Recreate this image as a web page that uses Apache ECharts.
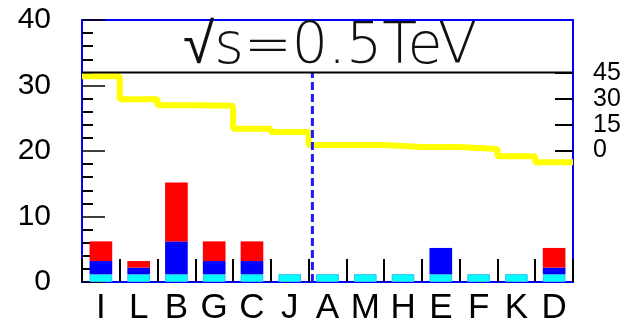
<!DOCTYPE html>
<html><head><meta charset="utf-8">
<script src="https://cdn.jsdelivr.net/npm/echarts@6/dist/echarts.min.js"></script>
<style>html,body{margin:0;padding:0;background:#fff}#c{width:630px;height:330px}</style>
</head><body><div id="c"></div>
<script>
const categories = ['I','L','B','G','C','J','A','M','H','E','F','K','D'];
const cyanValues = [1.2,1.2,1.2,1.2,1.2,1.2,1.2,1.2,1.2,1.2,1.2,1.2,1.2];
const blueValues = [2,1,5,2,2,0,0,0,0,4,0,0,1];
const redValues = [3,1,9,3,3,0,0,0,0,0,0,0,3];
const yellowValues = [31.4,27.9,27.0,26.9,23.4,22.9,20.9,20.9,20.6,20.6,20.3,19.2,18.3];
const leftTickLabels = [0,10,20,30,40];
const rightTickLabels = [0,15,30,45];
const refLevel = 32;
const cutPosition = 6.1;
const titleText = '√s=0.5TeV';

const n = categories.length;
const yellowData = yellowValues.map((v,i)=>[i,v]).concat([[n, yellowValues[n-1]]]);
const font = '"Liberation Sans", Arial, sans-serif';

const chart = echarts.init(document.getElementById('c'), null, {renderer:'canvas'});
chart.setOption({
  animation:false,
  backgroundColor:'#fff',
  grid:{left:82,right:57,top:20,bottom:48,show:true,borderColor:'#0000ff',borderWidth:2,backgroundColor:'transparent'},
  graphic:[{type:'text',x:330,y:48,z:100,style:{text:titleText,fontSize:57,fontFamily:'"DejaVu Sans", sans-serif',fontWeight:200,fill:'#111',textAlign:'center',textVerticalAlign:'middle'}}],
  xAxis:[
    {type:'category',data:categories,boundaryGap:true,
     axisLine:{show:true,lineStyle:{color:'#0000ff',width:2}},
     axisTick:{show:true,inside:true,length:23,lineStyle:{color:'#000',width:2}},
     axisLabel:{fontSize:35,color:'#000',fontFamily:font,margin:9,interval:0,hideOverlap:false},
     splitLine:{show:false}},
    {type:'value',min:0,max:n,show:false}
  ],
  yAxis:[
    {type:'value',min:0,max:40,interval:10,
     axisLine:{show:true,lineStyle:{color:'#0000ff',width:2}},
     axisTick:{show:true,inside:true,length:23,lineStyle:{color:'#000',width:1.5}},
     minorTick:{show:true,splitNumber:5,length:11,lineStyle:{color:'#000',width:2}},
     axisLabel:{fontSize:30,color:'#000',fontFamily:font,margin:31,
       customValues:leftTickLabels},
     splitLine:{show:false}},
    {type:'value',position:'right',min:-76.6,max:75.9,
     axisLine:{show:false},
     axisTick:{show:true,inside:true,length:18,lineStyle:{color:'#000',width:2},customValues:rightTickLabels},
     axisLabel:{fontSize:25,color:'#000',fontFamily:font,margin:20,customValues:rightTickLabels},
     splitLine:{show:false}}
  ],
  series:[
    {type:'bar',stack:'s',data:cyanValues,barCategoryGap:'40%',
     itemStyle:{color:'#00ffff',borderColor:'#30c0e8',borderWidth:1}},
    {type:'bar',stack:'s',data:blueValues,itemStyle:{color:'#0000ff'}},
    {type:'bar',stack:'s',data:redValues,itemStyle:{color:'#ff0000'}},
    {type:'line',xAxisIndex:1,yAxisIndex:0,data:yellowData,step:'end',symbol:'none',
     lineStyle:{color:'#ffff00',width:6},z:3},
    {type:'line',xAxisIndex:1,yAxisIndex:0,data:[[cutPosition,0],[cutPosition,refLevel]],symbol:'none',
     lineStyle:{color:'#1a1aff',width:3,type:[8,4]},z:4},
    {type:'line',xAxisIndex:1,yAxisIndex:0,data:[[0,refLevel],[n,refLevel]],symbol:'none',
     lineStyle:{color:'#000',width:2},z:5}
  ]
});
</script></body></html>
